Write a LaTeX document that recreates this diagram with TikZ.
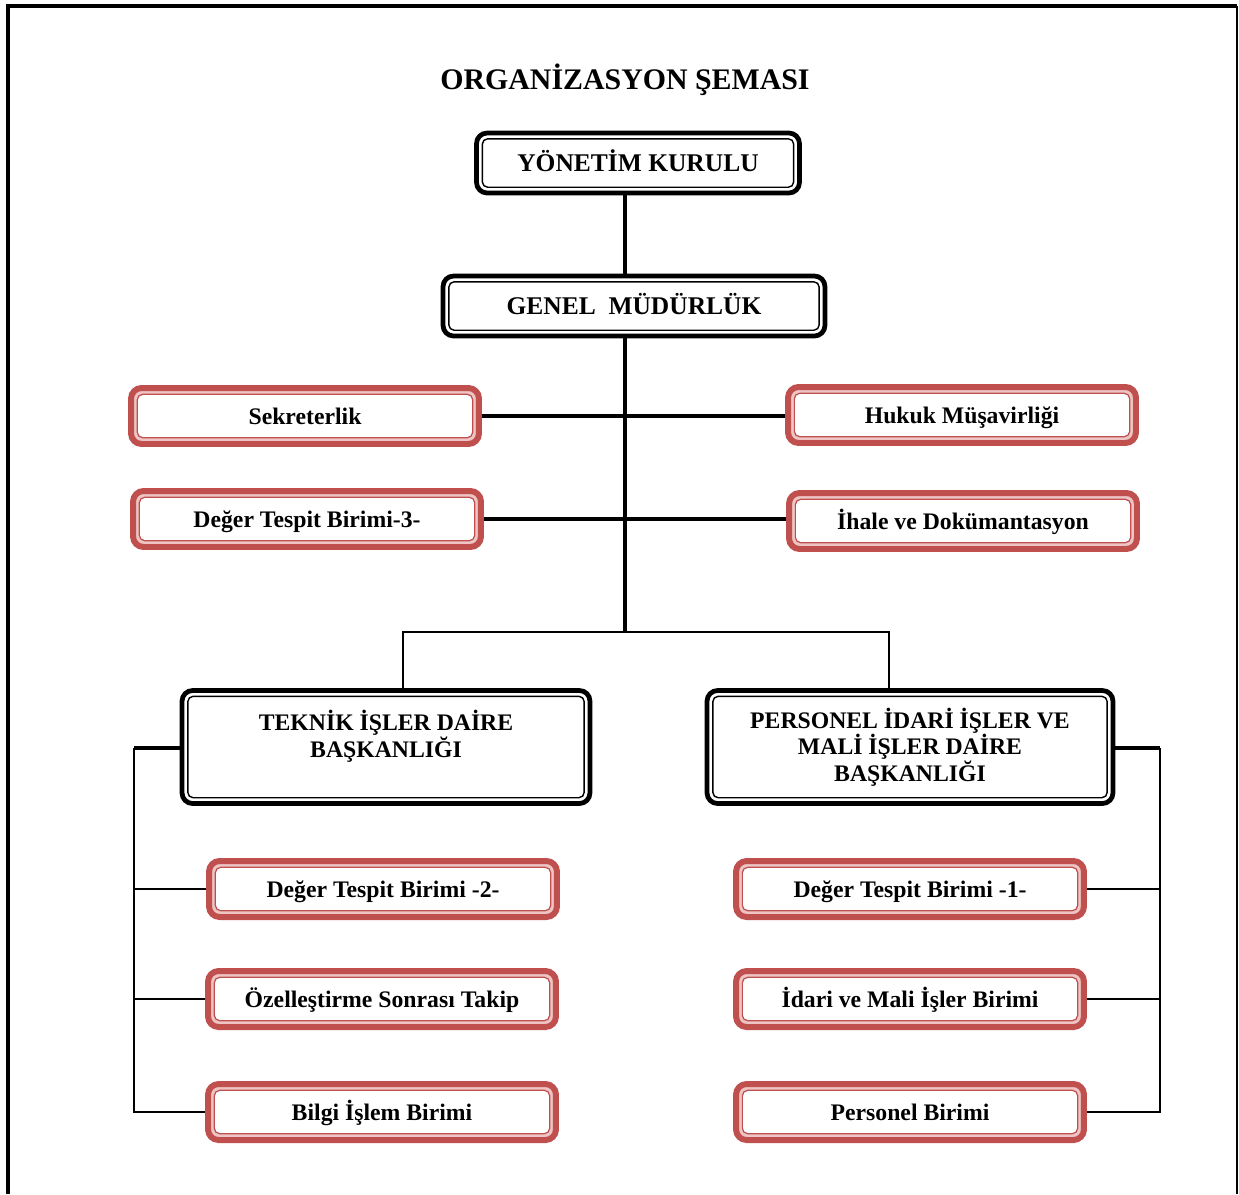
\documentclass[tikz,border=0pt]{standalone}
\usepackage{fontspec}
\setmainfont{Liberation Serif}
\definecolor{boxred}{RGB}{192,80,77}
\definecolor{boxpink}{RGB}{238,196,196}

\tikzset{
  yazi/.style={font=\bfseries\fontsize{13.5}{15}\selectfont, align=center},
  tekil/.style={text height=11pt, text depth=1.5pt},
  anakutu/.style={yazi, draw, line width=2.7pt, rounded corners=6pt, fill=white,
    path picture={\draw[line width=0.8pt, rounded corners=3pt]
      ([shift={(3.3pt,3.3pt)}]path picture bounding box.south west) rectangle
      ([shift={(-3.3pt,-3.3pt)}]path picture bounding box.north east);}},
  birimkutu/.style={yazi, tekil, draw=boxred, line width=3.4pt, rounded corners=6pt, fill=boxpink,
    minimum width=6.96cm, minimum height=1.12cm,
    path picture={\draw[boxred, line width=0.7pt, fill=white, rounded corners=3pt]
      ([shift={(3.6pt,3.6pt)}]path picture bounding box.south west) rectangle
      ([shift={(-3.6pt,-3.6pt)}]path picture bounding box.north east);}},
  kalin/.style={line width=2.3pt},
  orta/.style={line width=1.5pt},
  ince/.style={line width=0.8pt}
}

\begin{document}
\begin{tikzpicture}[x=0.02cm, y=-0.02cm]
  \useasboundingbox (0,0) rectangle (1239,1194);

  % Frame
  \draw[line width=1.8pt] (8,1194) -- (8,6) -- (1237,6);
  \draw[line width=1pt] (1237,6) -- (1237,1194);

  % Title
  \node[font=\bfseries\fontsize{17}{19}\selectfont] (baslik) at (625,80) {ORGANİZASYON ŞEMASI};

  % Top boxes
  \node[anakutu, tekil, font=\bfseries\fontsize{14.5}{16}\selectfont,
    minimum width=6.46cm, minimum height=1.2cm] (yk) at (638,163) {YÖNETİM KURULU};
  \node[anakutu, tekil, font=\bfseries\fontsize{14.5}{16}\selectfont,
    minimum width=7.64cm, minimum height=1.2cm] (gm) at (634,306) {GENEL\ \ MÜDÜRLÜK};

  % Units beside the trunk
  \node[birimkutu] (sek) at (305,416) {Sekreterlik};
  \node[birimkutu] (huk) at (962,415) {Hukuk Müşavirliği};
  \node[birimkutu] (dtb3) at (307,519) {Değer Tespit Birimi-3-};
  \node[birimkutu] (ihale) at (963,521) {İhale ve Dokümantasyon};

  % Departments
  \node[anakutu, minimum width=8.16cm, minimum height=2.26cm] (tek) at (386,747)
    {TEKNİK İŞLER DAİRE\\BAŞKANLIĞI\\ \mbox{}};
  \node[anakutu, minimum width=8.12cm, minimum height=2.26cm] (per) at (910,747)
    {PERSONEL İDARİ İŞLER VE\\MALİ İŞLER DAİRE\\BAŞKANLIĞI};

  % Units under the departments
  \node[birimkutu] (dtb2) at (383,889) {Değer Tespit Birimi -2-};
  \node[birimkutu] (ozel) at (382,999) {Özelleştirme Sonrası Takip};
  \node[birimkutu] (bilgi) at (382,1112) {Bilgi İşlem Birimi};
  \node[birimkutu] (dtb1) at (910,889) {Değer Tespit Birimi -1-};
  \node[birimkutu] (idari) at (910,999) {İdari ve Mali İşler Birimi};
  \node[birimkutu] (pb) at (910,1112) {Personel Birimi};

  % Connectors
  \coordinate (govde) at (625,632);
  \coordinate (sol) at (134,748);
  \coordinate (sag) at (1160,748);
  \draw[kalin] (yk.south -| govde) -- (gm.north -| govde);
  \draw[kalin] (gm.south -| govde) -- (govde);
  \draw[kalin] (sek.east) -- (sek.east -| huk.west);
  \draw[kalin] (dtb3.east) -- (dtb3.east -| ihale.west);
  \draw[orta] (govde) -- (govde -| 403,0) -- (tek.north -| 403,0);
  \draw[orta] (govde) -- (govde -| 889,0) -- (per.north -| 889,0);

  \draw[kalin] (tek.west |- sol) -- (sol);
  \draw[orta] (sol) -- (sol |- bilgi.west) -- (bilgi.west);
  \draw[ince] (sol |- dtb2.west) -- (dtb2.west);
  \draw[ince] (sol |- ozel.west) -- (ozel.west);

  \draw[kalin] (per.east |- sag) -- (sag);
  \draw[orta] (sag) -- (sag |- pb.east) -- (pb.east);
  \draw[ince] (sag |- dtb1.east) -- (dtb1.east);
  \draw[ince] (sag |- idari.east) -- (idari.east);
\end{tikzpicture}
\end{document}
